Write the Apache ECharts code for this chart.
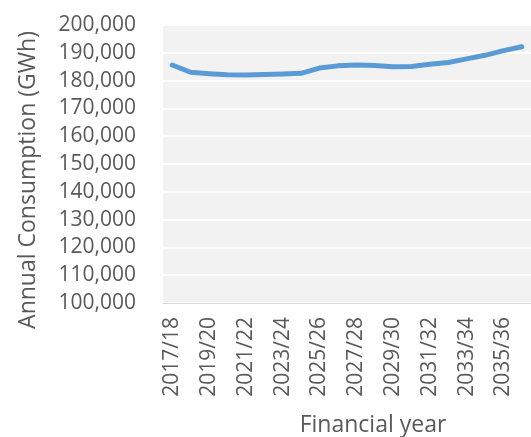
<!DOCTYPE html>
<html>
<head>
<meta charset="utf-8">
<script src="https://cdn.jsdelivr.net/npm/echarts@6/dist/echarts.min.js"></script>
<style>
html,body{margin:0;padding:0;background:#fff;}
#c{width:531px;height:437px;}
</style>
</head>
<body>
<div id="c"></div>
<script>
const categories = ['2017/18','2018/19','2019/20','2020/21','2021/22','2022/23','2023/24','2024/25','2025/26','2026/27','2027/28','2028/29','2029/30','2030/31','2031/32','2032/33','2033/34','2034/35','2035/36','2036/37'];
const consumption = [185600,183000,182500,182100,182000,182200,182400,182600,184500,185300,185600,185400,185000,185100,185900,186500,187800,189100,190800,192200];
const yMin = 100000, yMax = 200000, yStep = 10000;
const xTitle = 'Financial year';
const yTitle = 'Annual Consumption (GWh)';

const font = 'Open Sans';
const grey = '#595959';
const chart = echarts.init(document.getElementById('c'), null, {renderer:'canvas'});
chart.setOption({
  animation: false,
  grid: {left:163, top:25, right:0, bottom:134, show:true, backgroundColor:'#F2F2F2', borderWidth:0},
  xAxis: {
    type:'category', data:categories, boundaryGap:true,
    axisLine:{show:true, lineStyle:{color:'#D9D9D9', width:1}},
    axisTick:{show:false},
    axisLabel:{rotate:90, interval:1, margin:14, color:grey, fontFamily:font, fontSize:21},
    splitLine:{show:false}
  },
  yAxis: {
    type:'value', min:yMin, max:yMax, interval:yStep,
    axisLine:{show:false}, axisTick:{show:false},
    axisLabel:{color:grey, fontFamily:font, fontSize:21, margin:27,
      formatter: v => v.toLocaleString('en-US')},
    splitLine:{show:true, lineStyle:{color:'#FFFFFF', width:2}}
  },
  graphic: [{
    type:'text', x:373, y:425,
    style:{text:xTitle, fill:grey, font:'23px "Open Sans"', align:'center', verticalAlign:'middle'}
  },{
    type:'text', x:28, y:180, rotation:Math.PI/2,
    style:{text:yTitle, fill:grey, font:'23px "Open Sans"', align:'center', verticalAlign:'middle'}
  }],
  series: [{
    type:'line', data:consumption, showSymbol:false, symbol:'none',
    lineStyle:{color:'#5B9BD5', width:5, cap:'round', join:'round'},
    smooth:false
  }]
});
</script>
</body>
</html>
